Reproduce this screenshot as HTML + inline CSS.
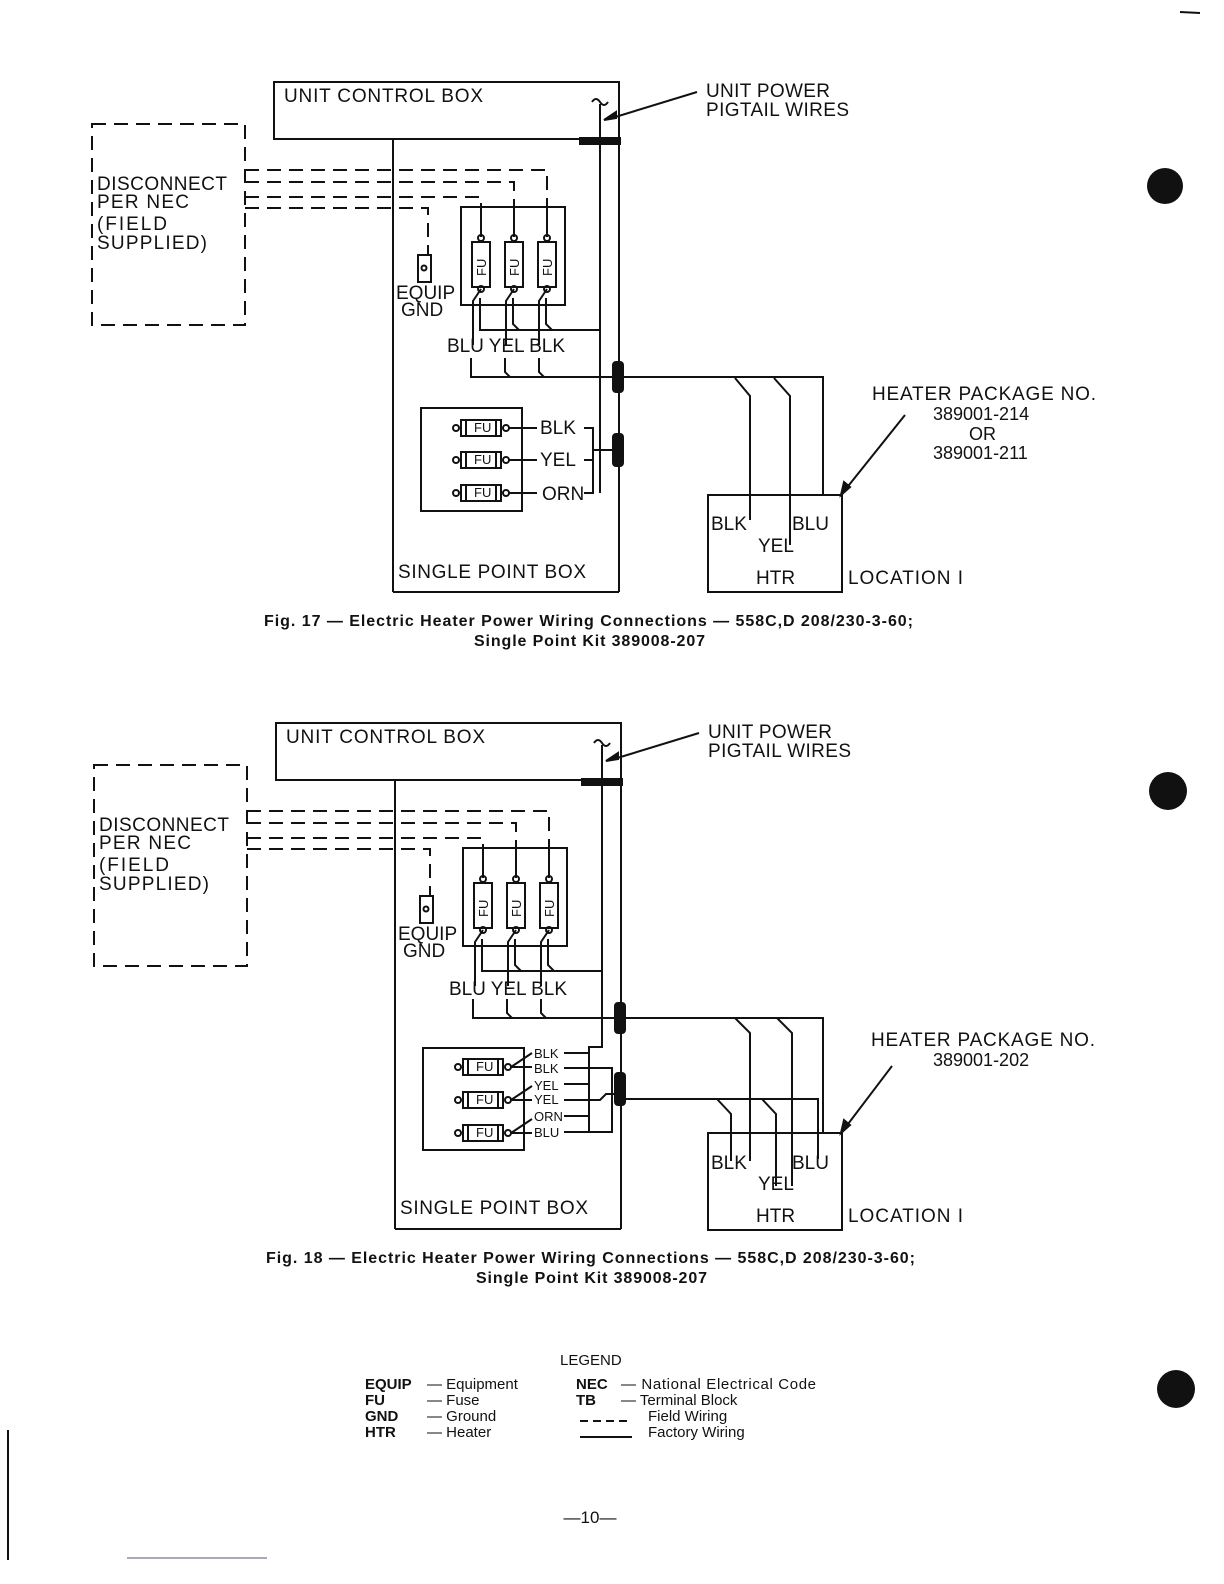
<!DOCTYPE html>
<html><head><meta charset="utf-8"><style>
html,body{margin:0;padding:0;background:#fff}
svg{display:block}
text{font-family:"Liberation Sans",sans-serif;fill:#111}
</style></head><body>
<svg width="1224" height="1584" viewBox="0 0 1224 1584" xmlns="http://www.w3.org/2000/svg">
<g stroke="#111" fill="none" stroke-width="2">
<!-- ===== FIG 17 ===== -->
<g>
<rect x="274" y="82" width="345" height="57"/>
<line x1="393" y1="139" x2="393" y2="592"/>
<line x1="619" y1="139" x2="619" y2="592"/>
<line x1="393" y1="592" x2="619" y2="592"/>
<line x1="600" y1="104" x2="600" y2="493"/>
<path d="M592 102 q4 -6 8 0 q4 6 8 0"/>
<rect x="580" y="138" width="40" height="6" fill="#111"/>
<line x1="612" y1="118" x2="697" y2="92"/>
<path d="M604 120 l12 -8 l0 6z" fill="#111"/>
<rect x="613" y="362" width="10" height="30" rx="3" fill="#111"/>
<rect x="613" y="434" width="10" height="32" rx="3" fill="#111"/>
<g stroke-dasharray="14,8">
<path d="M92 124 H245 V325 H92 Z"/>
<path d="M245 170 H547 V207"/>
<path d="M245 182 H514 V207"/>
<path d="M245 197 H481 V207"/>
<path d="M245 208 H428 V255"/>
</g>
<rect x="461" y="207" width="104" height="98"/>
<g>
<line x1="481" y1="207" x2="481" y2="237"/><line x1="514" y1="207" x2="514" y2="237"/><line x1="547" y1="207" x2="547" y2="237"/>
<circle cx="481" cy="238" r="3"/><circle cx="514" cy="238" r="3"/><circle cx="547" cy="238" r="3"/>
<rect x="472" y="242" width="18" height="45"/><rect x="505" y="242" width="18" height="45"/><rect x="538" y="242" width="18" height="45"/>
<circle cx="481" cy="289" r="3"/><circle cx="514" cy="289" r="3"/><circle cx="547" cy="289" r="3"/>
<path d="M481 289 l-8 12 V345"/><path d="M514 289 l-8 12 V345"/><path d="M547 289 l-8 12 V345"/>
<path d="M480 298 V330 H600"/><path d="M513 298 V324 l6 6"/><path d="M546 298 V324 l6 6"/>
<path d="M471 358 V377 H823 V495"/><path d="M505 358 V372 l5 5"/><path d="M539 358 V372 l5 5"/>
</g>
<rect x="418" y="255" width="13" height="27"/>
<circle cx="424" cy="268" r="2.5"/>
<path d="M735 378 l15 18 V520"/>
<path d="M774 378 l16 18 V545"/>
<rect x="708" y="495" width="134" height="97"/>
<line x1="905" y1="415" x2="845" y2="490"/>
<path d="M841 495 l3 -13 l6 5z" fill="#111"/>
<rect x="421" y="408" width="101" height="103"/>
<g>
<rect x="461" y="420" width="40" height="16"/><rect x="461" y="452" width="40" height="16"/><rect x="461" y="485" width="40" height="16"/>
<line x1="466" y1="420" x2="466" y2="436"/><line x1="496" y1="420" x2="496" y2="436"/>
<line x1="466" y1="452" x2="466" y2="468"/><line x1="496" y1="452" x2="496" y2="468"/>
<line x1="466" y1="485" x2="466" y2="501"/><line x1="496" y1="485" x2="496" y2="501"/>
<circle cx="456" cy="428" r="3"/><circle cx="456" cy="460" r="3"/><circle cx="456" cy="493" r="3"/>
<circle cx="506" cy="428" r="3"/><circle cx="506" cy="460" r="3"/><circle cx="506" cy="493" r="3"/>
<line x1="509" y1="428" x2="537" y2="428"/><line x1="509" y1="460" x2="537" y2="460"/><line x1="509" y1="493" x2="537" y2="493"/>
<path d="M584 428 H593 V493 H584"/><line x1="584" y1="460" x2="593" y2="460"/>
<line x1="593" y1="450" x2="613" y2="450"/>
</g>
</g>
<!-- ===== FIG 18 ===== -->
<g transform="translate(2,641)">
<rect x="274" y="82" width="345" height="57"/>
<line x1="393" y1="139" x2="393" y2="588"/>
<line x1="619" y1="139" x2="619" y2="588"/>
<line x1="393" y1="588" x2="619" y2="588"/>
<line x1="600" y1="104" x2="600" y2="390"/>
<path d="M600 390 V406 H587 V490"/>
<path d="M592 102 q4 -6 8 0 q4 6 8 0"/>
<rect x="580" y="138" width="40" height="6" fill="#111"/>
<line x1="612" y1="118" x2="697" y2="92"/>
<path d="M604 120 l12 -8 l0 6z" fill="#111"/>
<rect x="613" y="362" width="10" height="30" rx="3" fill="#111"/>
<rect x="613" y="432" width="10" height="32" rx="3" fill="#111"/>
<g stroke-dasharray="14,8">
<path d="M92 124 H245 V325 H92 Z"/>
<path d="M245 170 H547 V207"/>
<path d="M245 182 H514 V207"/>
<path d="M245 197 H481 V207"/>
<path d="M245 208 H428 V255"/>
</g>
<rect x="461" y="207" width="104" height="98"/>
<g>
<line x1="481" y1="207" x2="481" y2="237"/><line x1="514" y1="207" x2="514" y2="237"/><line x1="547" y1="207" x2="547" y2="237"/>
<circle cx="481" cy="238" r="3"/><circle cx="514" cy="238" r="3"/><circle cx="547" cy="238" r="3"/>
<rect x="472" y="242" width="18" height="45"/><rect x="505" y="242" width="18" height="45"/><rect x="538" y="242" width="18" height="45"/>
<circle cx="481" cy="289" r="3"/><circle cx="514" cy="289" r="3"/><circle cx="547" cy="289" r="3"/>
<path d="M481 289 l-8 12 V345"/><path d="M514 289 l-8 12 V345"/><path d="M547 289 l-8 12 V345"/>
<path d="M480 298 V330 H600"/><path d="M513 298 V324 l6 6"/><path d="M546 298 V324 l6 6"/>
<path d="M471 358 V377 H821 V493"/><path d="M505 358 V372 l5 5"/><path d="M539 358 V372 l5 5"/>
</g>
<rect x="418" y="255" width="13" height="27"/>
<circle cx="424" cy="268" r="2.5"/>
<path d="M733 377 l15 15 V520"/>
<path d="M775 377 l15 15 V545"/>
<path d="M623 458 H816 V518"/>
<path d="M715 458 l14 15 V520"/>
<path d="M760 458 l14 15 V545"/>
<rect x="706" y="492" width="134" height="97"/>
<line x1="890" y1="425" x2="843" y2="487"/>
<path d="M839 492 l3 -13 l6 5z" fill="#111"/>
<rect x="421" y="407" width="101" height="102"/>
<g>
<rect x="461" y="418" width="40" height="16"/><rect x="461" y="451" width="40" height="16"/><rect x="461" y="484" width="40" height="16"/>
<line x1="466" y1="418" x2="466" y2="434"/><line x1="496" y1="418" x2="496" y2="434"/>
<line x1="466" y1="451" x2="466" y2="467"/><line x1="496" y1="451" x2="496" y2="467"/>
<line x1="466" y1="484" x2="466" y2="500"/><line x1="496" y1="484" x2="496" y2="500"/>
<circle cx="456" cy="426" r="3"/><circle cx="456" cy="459" r="3"/><circle cx="456" cy="492" r="3"/>
<circle cx="506" cy="426" r="3"/><circle cx="506" cy="459" r="3"/><circle cx="506" cy="492" r="3"/>
<path d="M509 426 l21 -14"/><path d="M509 426 H530"/>
<path d="M509 459 l21 -14"/><path d="M509 459 H530"/>
<path d="M509 492 l21 -14"/><path d="M509 492 H530"/>
<path d="M562 412 H587"/><path d="M562 443 H587"/><path d="M562 475 H587"/>
<path d="M562 427 H610 V491 H562"/><path d="M562 459 H598 l6 -6 H613"/>
</g>
</g>
<line x1="1180" y1="12" x2="1200" y2="13"/>
<line x1="8" y1="1430" x2="8" y2="1560"/>
<line x1="127" y1="1558" x2="267" y2="1558" stroke="#557" stroke-width="1"/>
<line x1="580" y1="1437" x2="632" y2="1437"/>
<line x1="580" y1="1421" x2="632" y2="1421" stroke-dasharray="8,5"/>
</g>
<g fill="#111" stroke="none">
<circle cx="1165" cy="186" r="18"/><circle cx="1168" cy="791" r="19"/><circle cx="1176" cy="1389" r="19"/>
</g>
<!-- texts fig 17 -->
<g font-size="19" lengthAdjust="spacing">
<text x="284" y="102" textLength="199" lengthAdjust="spacing">UNIT  CONTROL  BOX</text>
<text x="706" y="97" textLength="124" lengthAdjust="spacing">UNIT POWER</text><text x="706" y="116" textLength="143" lengthAdjust="spacing">PIGTAIL WIRES</text>
<text x="97" y="190" textLength="130" lengthAdjust="spacing">DISCONNECT</text><text x="97" y="208" textLength="92" lengthAdjust="spacing">PER  NEC</text>
<text x="97" y="230" textLength="70" lengthAdjust="spacing">(FIELD</text><text x="97" y="249" textLength="110" lengthAdjust="spacing">SUPPLIED)</text>
<text x="396" y="299">EQUIP</text><text x="401" y="316">GND</text>
<text x="447" y="352" textLength="118" lengthAdjust="spacing">BLU YEL BLK</text>
<text x="540" y="434">BLK</text><text x="540" y="466">YEL</text><text x="542" y="500">ORN</text>
<text x="398" y="578" textLength="188" lengthAdjust="spacing">SINGLE  POINT  BOX</text>
<text x="711" y="530">BLK</text><text x="792" y="530">BLU</text><text x="758" y="552">YEL</text>
<text x="756" y="584">HTR</text><text x="848" y="584" textLength="115" lengthAdjust="spacing">LOCATION  I</text>
<text x="872" y="400" textLength="224" lengthAdjust="spacing">HEATER PACKAGE NO.</text>
<text x="933" y="420" font-size="18">389001-214</text><text x="969" y="440" font-size="18">OR</text><text x="933" y="459" font-size="18">389001-211</text>
</g>
<g font-size="13">
<text x="474" y="432">FU</text><text x="474" y="464">FU</text><text x="474" y="497">FU</text>
<text transform="translate(486,276) rotate(-90)">FU</text><text transform="translate(519,276) rotate(-90)">FU</text><text transform="translate(552,276) rotate(-90)">FU</text>
</g>
<text x="264" y="626" font-size="16" font-weight="bold" textLength="649" lengthAdjust="spacing">Fig. 17 — Electric Heater Power Wiring Connections — 558C,D 208/230-3-60;</text>
<text x="474" y="646" font-size="16" font-weight="bold" textLength="231" lengthAdjust="spacing">Single Point Kit 389008-207</text>
<!-- texts fig 18 -->
<g font-size="19">
<text x="286" y="743" textLength="199" lengthAdjust="spacing">UNIT  CONTROL  BOX</text>
<text x="708" y="738" textLength="124" lengthAdjust="spacing">UNIT POWER</text><text x="708" y="757" textLength="143" lengthAdjust="spacing">PIGTAIL WIRES</text>
<text x="99" y="831" textLength="130" lengthAdjust="spacing">DISCONNECT</text><text x="99" y="849" textLength="92" lengthAdjust="spacing">PER  NEC</text>
<text x="99" y="871" textLength="70" lengthAdjust="spacing">(FIELD</text><text x="99" y="890" textLength="110" lengthAdjust="spacing">SUPPLIED)</text>
<text x="398" y="940">EQUIP</text><text x="403" y="957">GND</text>
<text x="449" y="995" textLength="118" lengthAdjust="spacing">BLU YEL BLK</text>
<text x="400" y="1214" textLength="188" lengthAdjust="spacing">SINGLE  POINT  BOX</text>
<text x="711" y="1169">BLK</text><text x="792" y="1169">BLU</text><text x="758" y="1190">YEL</text>
<text x="756" y="1222">HTR</text><text x="848" y="1222" textLength="115" lengthAdjust="spacing">LOCATION  I</text>
<text x="871" y="1046" textLength="224" lengthAdjust="spacing">HEATER PACKAGE NO.</text>
<text x="933" y="1066" font-size="18">389001-202</text>
</g>
<g font-size="13">
<text x="534" y="1058">BLK</text><text x="534" y="1073">BLK</text>
<text x="534" y="1090">YEL</text><text x="534" y="1104">YEL</text>
<text x="534" y="1121">ORN</text><text x="534" y="1137">BLU</text>
<text x="476" y="1071">FU</text><text x="476" y="1104">FU</text><text x="476" y="1137">FU</text>
<text transform="translate(488,917) rotate(-90)">FU</text><text transform="translate(521,917) rotate(-90)">FU</text><text transform="translate(554,917) rotate(-90)">FU</text>
</g>
<text x="266" y="1263" font-size="16" font-weight="bold" textLength="649" lengthAdjust="spacing">Fig. 18 — Electric Heater Power Wiring Connections — 558C,D 208/230-3-60;</text>
<text x="476" y="1283" font-size="16" font-weight="bold" textLength="231" lengthAdjust="spacing">Single Point Kit 389008-207</text>
<!-- legend -->
<g font-size="15">
<text x="560" y="1365">LEGEND</text>
<text x="365" y="1389" font-weight="bold">EQUIP</text><text x="427" y="1389">—  Equipment</text>
<text x="365" y="1405" font-weight="bold">FU</text><text x="427" y="1405">—  Fuse</text>
<text x="365" y="1421" font-weight="bold">GND</text><text x="427" y="1421">—  Ground</text>
<text x="365" y="1437" font-weight="bold">HTR</text><text x="427" y="1437">—  Heater</text>
<text x="576" y="1389" font-weight="bold">NEC</text><text x="621" y="1389" textLength="195" lengthAdjust="spacing">—  National Electrical Code</text>
<text x="576" y="1405" font-weight="bold">TB</text><text x="621" y="1405">—  Terminal Block</text>
<text x="648" y="1421">Field Wiring</text>
<text x="648" y="1437">Factory Wiring</text>
</g>
<text x="590" y="1523" font-size="17" text-anchor="middle" font-family="Liberation Serif, serif">—10—</text>
</svg>
</body></html>
